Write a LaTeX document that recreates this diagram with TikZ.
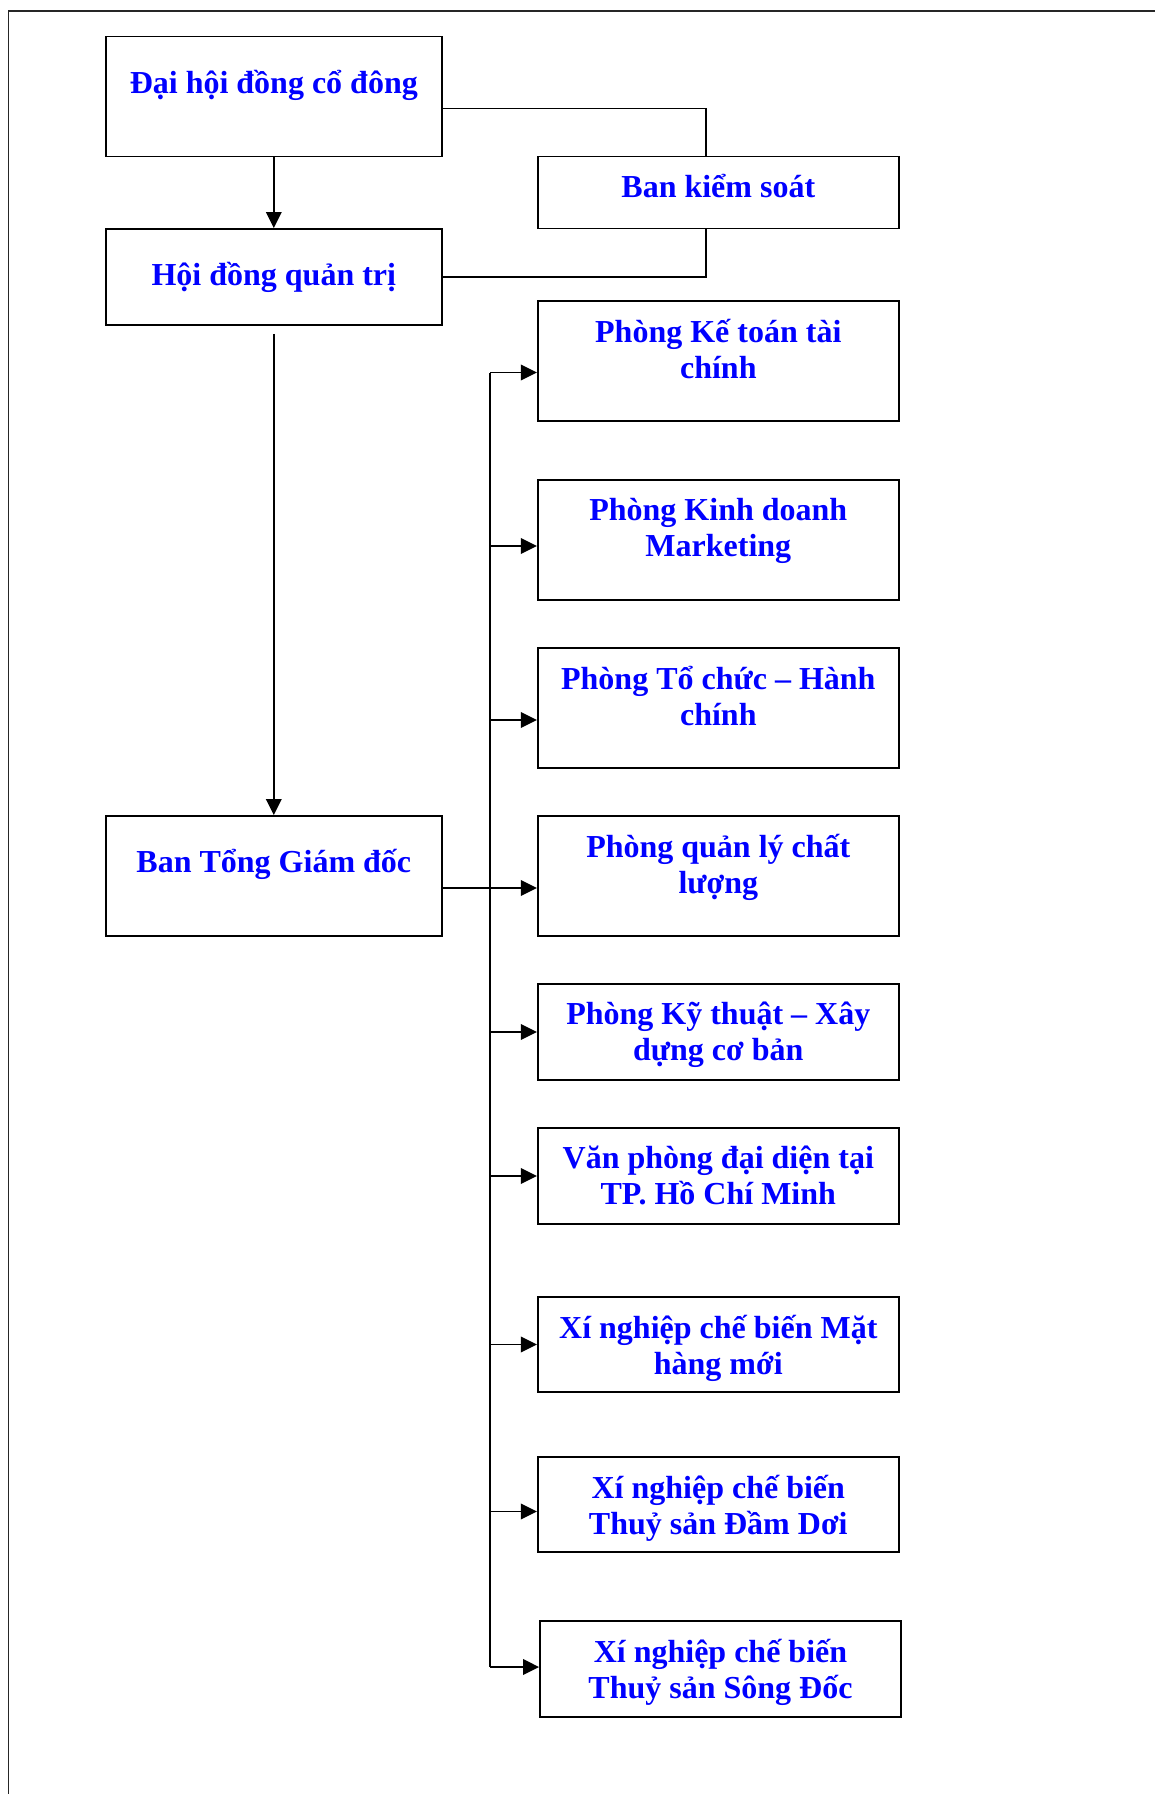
\documentclass[tikz,border=0pt]{standalone}
\usepackage{fontspec}
\setmainfont{Liberation Serif}
\usetikzlibrary{arrows.meta}

\begin{document}
\begin{tikzpicture}[x=0.5pt, y=-0.5pt,
    unit/.style={draw, line width=0.95pt, inner sep=0pt, minimum width=180.5pt, minimum height=#1},
    lbl/.style={text=blue, font=\bfseries\fontsize{16}{18}\selectfont, align=center,
                inner sep=0pt, anchor=north, execute at begin node={\rule{0pt}{18pt}}},
    conn/.style={line width=0.85pt},
    arr/.style={conn, -{Triangle[length=8pt, width=7.8pt]}}]
    \useasboundingbox (0,0) rectangle (1155,1794);

    % Khung
    \draw[black!85, line width=0.7pt] (8.5,1794) -- (8.5,11) -- (1155,11);

    % Cột trái
    \node[unit=60pt, minimum width=168pt, label={[lbl, yshift=-10.7pt]north:Đại hội đồng cổ đông}] (dh) at (273.8,96.5) {};
    \node[unit=48pt, minimum width=168pt, label={[lbl, yshift=-10.7pt]north:Hội đồng quản trị}] (hdqt) at (273.8,277) {};
    \node[unit=60pt, minimum width=168pt, label={[lbl, yshift=-10.7pt]north:Ban Tổng Giám đốc}] (btgd) at (273.8,876) {};
    \node[unit=36pt, label={[lbl, yshift=-2.7pt]north:Ban kiểm soát}] (bks) at (718.3,192.5) {};

    % Cột phải
    \node[unit=60pt, label={[lbl, yshift=-9.4pt]north:Phòng Kế toán tài\\chính}] (kt) at (718.3,361) {};
    \node[unit=60pt, label={[lbl, yshift=-9.4pt]north:Phòng Kinh doanh\\Marketing}] (kd) at (718.3,540) {};
    \node[unit=60pt, label={[lbl, yshift=-9.4pt]north:Phòng Tổ chức – Hành\\chính}] (tc) at (718.3,708) {};
    \node[unit=60pt, label={[lbl, yshift=-9.4pt]north:Phòng quản lý chất\\lượng}] (ql) at (718.3,876) {};
    \node[unit=48pt, label={[lbl, yshift=-9.4pt]north:Phòng Kỹ thuật – Xây\\dựng cơ bản}] (kth) at (718.3,1032) {};
    \node[unit=48pt, label={[lbl, yshift=-9.4pt]north:Văn phòng đại diện tại\\TP. Hồ Chí Minh}] (vp) at (718.3,1176) {};
    \node[unit=47.5pt, label={[lbl, yshift=-9.4pt]north:Xí nghiệp chế biến Mặt\\hàng mới}] (xnm) at (718.3,1344.5) {};
    \node[unit=47.5pt, label={[lbl, yshift=-9.4pt]north:Xí nghiệp chế biến\\Thuỷ sản Đầm Dơi}] (xdd) at (718.3,1504.5) {};
    \node[unit=48pt, label={[lbl, yshift=-9.4pt]north:Xí nghiệp chế biến\\Thuỷ sản Sông Đốc}] (xsd) at (720.5,1669) {};

    % Quan hệ cấp trên
    \draw[arr] (dh) -- (hdqt);
    \draw[conn] ([yshift=-6pt]dh.east) -| ([xshift=-6pt]bks.north);
    \draw[conn] ([xshift=-6pt]bks.south) |- (hdqt.east);
    \draw[arr] ([yshift=-4pt]hdqt.south) -- (btgd);

    % Trục nối các phòng
    \coordinate (bus) at (490,372.5);
    \draw[conn] (bus) -- ([yshift=1pt]bus |- xsd.west);
    \draw[arr] (bus) -- (bus -| kt.west);
    \draw[arr] ([yshift=-3pt]bus |- kd.west) -- ([yshift=-3pt]kd.west);
    \draw[arr] ([yshift=-6pt]bus |- tc.west) -- ([yshift=-6pt]tc.west);
    \draw[arr] ([yshift=-6pt]btgd.east) -- ([yshift=-6pt]ql.west);
    \draw[arr] (bus |- kth.west) -- (kth.west);
    \draw[arr] (bus |- vp.west) -- (vp.west);
    \draw[arr] (bus |- xnm.west) -- (xnm.west);
    \draw[arr] ([yshift=-3.5pt]bus |- xdd.west) -- ([yshift=-3.5pt]xdd.west);
    \draw[arr] ([yshift=1pt]bus |- xsd.west) -- ([yshift=1pt]xsd.west);
\end{tikzpicture}
\end{document}
